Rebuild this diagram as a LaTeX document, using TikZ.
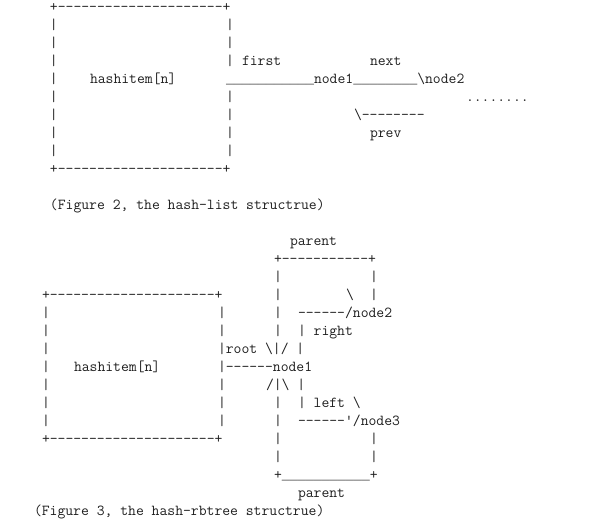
\documentclass[tikz,border=0pt]{standalone}
\usepackage{fontspec}
\setmonofont{Latin Modern Mono}[Ligatures=TeXOff]
\newfontfamily\rulefont{Liberation Mono}[Scale=0.875]
\usepackage{tikz}
\usetikzlibrary{positioning}
\usepackage{xcolor}
\definecolor{asciiink}{RGB}{30,30,30}
\tikzstyle{ascii} = [anchor=base west,inner sep=0pt,outer sep=0pt,text=asciiink,font=\ttfamily\fontsize{11.43}{13}\selectfont]
\newcommand{\bars}[1]{{\rulefont\foreach \i in {1,...,#1}{\_}}}
\frenchspacing

\begin{document}
\begin{tikzpicture}[x=6pt,y=-13.5pt]
\useasboundingbox (-4.25,-0.639) rectangle (71.25,28.583);

% Figure 2: hash-list
\node[ascii] (topA) at (2,0) {+---------------------+};
\foreach \r in {1,...,8} \node[ascii] (lbarA\r) at (2,\r) {|};
\foreach \r in {1,2,3,5,6,7,8} \node[ascii] (rbarA\r) at (24,\r) {|};
\node[ascii] (first) at (26,3) {first};
\node[ascii] (next) at (42,3) {next};
\node[ascii] (itemA) at (7,4) {hashitem[n]};
\node[ascii] (listA) at (24,4) {\bars{11}node1\bars{8}\textbackslash node2};
\node[ascii] (more) at (54,5) {........};
\node[ascii] (prevlink) at (40,6) {\textbackslash--------};
\node[ascii] (prev) at (42,7) {prev};
\node[ascii] (botA) at (2,9) {+---------------------+};
\node[ascii] (capA) at (2,11) {(Figure 2, the hash-list structrue)};

% Figure 3: hash-rbtree
\node[ascii] (parentT) at (32,13) {parent};
\node[ascii] (ptop) at (30,14) {+-----------+};
\foreach \r in {15,16,17,18,22,23,24,25} \node[ascii] (pbarL\r) at (30,\r) {|};
\foreach \r in {15,16,24,25} \node[ascii] (pbarR\r) at (42,\r) {|};
\node[ascii] (topB) at (1,16) {+---------------------+};
\node[ascii] (slashT) at (39,16) {\textbackslash};
\foreach \r in {17,...,23} \node[ascii] (lbarB\r) at (1,\r) {|};
\foreach \r in {17,18,21,22,23} \node[ascii] (rbarB\r) at (23,\r) {|};
\node[ascii] (node2) at (33,17) {------/node2};
\node[ascii] (right) at (33,18) {| right};
\node[ascii] (root) at (23,19) {|root \textbackslash|/ |};
\node[ascii] (itemB) at (5,20) {hashitem[n]};
\node[ascii] (node1) at (23,20) {|------node1};
\node[ascii] (fork) at (29,21) {/|\textbackslash{} |};
\node[ascii] (left) at (33,22) {| left \textbackslash};
\node[ascii] (node3) at (33,23) {------'/node3};
\node[ascii] (botB) at (1,24) {+---------------------+};
\node[ascii] (pbot) at (30,26) {+\bars{11}+};
\node[ascii] (parentB) at (33,27) {parent};
\node[ascii] (capB) at (0,28) {(Figure 3, the hash-rbtree structrue)};
\end{tikzpicture}
\end{document}
